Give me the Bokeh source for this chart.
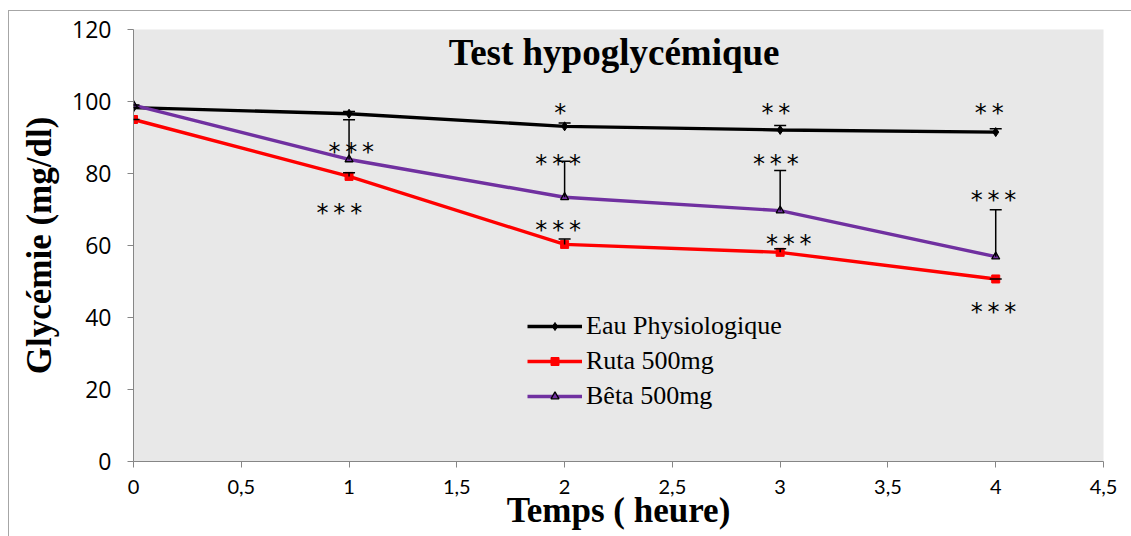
from bokeh.plotting import figure
from bokeh.models import (Range1d, Whisker, ColumnDataSource, Label, Legend, LegendItem,
                          CustomJSTickFormatter, FixedTicker, TeeHead, InlineStyleSheet)
from bokeh.core.properties import value
from bokeh.embed import file_html
from bokeh.resources import INLINE

# ---- data ----
hours = [0, 1, 2, 3, 4]
eau = [98.3, 96.6, 93.1, 92.1, 91.5]
eau_err = [0.0, 0.6, 0.9, 1.2, 0.9]
ruta = [95.0, 79.2, 60.3, 58.1, 50.7]
ruta_err = [0.0, 1.0, 1.5, 1.0, 0.0]
beta = [99.0, 83.9, 73.4, 69.7, 56.9]
beta_err = [0.0, 11.0, 10.0, 11.1, 13.0]

series_names = ["Eau Physiologique", "Ruta 500mg", "Bêta 500mg"]

# significance annotations
T3 = "*\u2009*\u2009*"
T2 = "*\u2009*"
sig_text = [T3, T3, "*", T3, T3, T2, T3, T3, T2, T3, T3]
sig_x = [1.01, 0.955, 1.98, 1.97, 1.97, 2.98, 2.98, 3.04, 3.97, 3.99, 3.99]
sig_y = [86.8, 69.9, 97.7, 83.4, 65.1, 97.7, 83.4, 61.2, 97.7, 73.6, 42.4]

x_ticks = [0, 0.5, 1, 1.5, 2, 2.5, 3, 3.5, 4, 4.5]
y_ticks = [0, 20, 40, 60, 80, 100, 120]

# ---- figure ----
p = figure(width=1131, height=536, output_backend="svg", toolbar_location=None,
           x_range=Range1d(0, 4.5), y_range=Range1d(0, 120),
           min_border_left=133, min_border_right=28, min_border_top=29, min_border_bottom=75)
p.background_fill_color = "#e8e8e8"
p.border_fill_color = "white"
p.outline_line_color = None
p.xgrid.grid_line_color = None
p.ygrid.grid_line_color = None
p.stylesheets = [InlineStyleSheet(css=(
    ":host::after { content: ''; position: absolute; left: 8px; top: 10px; right: 0px; bottom: 0px;"
    " border-left: 1px solid #a6a6a6; border-top: 1px solid #a6a6a6; pointer-events: none; }"))]

fmt = CustomJSTickFormatter(code="return tick.toString().replace('.', ',');")
for ax, ticks in ((p.xaxis[0], x_ticks), (p.yaxis[0], y_ticks)):
    ax.ticker = FixedTicker(ticks=ticks)
    ax.formatter = fmt
    ax.axis_line_color = "#868686"
    ax.major_tick_line_color = "#868686"
    ax.major_tick_out = 6
    ax.major_tick_in = 0
    ax.minor_tick_line_color = None
    ax.major_label_text_color = "black"
    ax.axis_label_text_font = "Liberation Serif"
    ax.axis_label_text_font_style = "bold"
    ax.axis_label_text_color = "black"

p.xaxis.major_label_text_font = "Lato"
p.xaxis.major_label_text_font_size = "20px"
p.yaxis.major_label_text_font = "Open Sans"
p.yaxis.major_label_text_font_size = "23px"

p.xaxis.axis_label = "Temps ( heure)"
p.xaxis.axis_label_text_font_size = "35px"
p.xaxis.axis_label_standoff = -6
p.xaxis.major_label_standoff = 12
p.yaxis.axis_label = "Glycémie (mg/dl)"
p.yaxis.axis_label_text_font_size = "35px"
p.yaxis.axis_label_standoff = 10
p.yaxis.major_label_standoff = 16

colors = ["black", "#ff0000", "#7030a0"]
values = [eau, ruta, beta]
errs = [eau_err, ruta_err, beta_err]
items = []
for name, vals, col in zip(series_names, values, colors):
    src = ColumnDataSource(dict(x=hours, y=vals))
    r_line = p.line("x", "y", source=src, line_color=col, line_width=3.4)
    if name.startswith("Eau"):
        r_m = p.scatter("x", "y", source=src, marker="diamond", size=9, fill_color="black", line_color="black")
    elif name.startswith("Ruta"):
        r_m = p.scatter("x", "y", source=src, marker="square", size=8, fill_color="#ff0000", line_color="#ff0000")
    else:
        r_m = p.scatter("x", "y", source=src, marker="triangle", size=8, fill_color=col, line_color="black", line_width=1.3)
    items.append(LegendItem(label=name, renderers=[r_line, r_m]))

for vals, err in zip(values, errs):
    esrc = ColumnDataSource(dict(x=hours, lower=vals, upper=[v + e for v, e in zip(vals, err)]))
    w = Whisker(source=esrc, base="x", lower="lower", upper="upper",
                upper_head=TeeHead(size=12, line_width=1.5, line_color="black"),
                lower_head=None, line_color="black", line_width=1.5, level="overlay")
    p.add_layout(w)

sig_src = ColumnDataSource(dict(x=sig_x, y=sig_y, t=sig_text))
p.text("x", "y", text="t", source=sig_src, text_align="center", text_baseline="middle",
       text_font=value("DejaVu Sans"), text_font_size="24px", text_color="black", y_offset=3)

legend = Legend(items=items, location=(394, 50), background_fill_alpha=0,
                border_line_color=None, label_text_font="Liberation Serif",
                label_text_font_size="26px", label_text_color="black",
                glyph_width=55, glyph_height=20, label_height=26, spacing=5,
                padding=0, margin=0, label_standoff=4)
p.add_layout(legend)

title = Label(x=2.23, y=113.5, text="Test hypoglycémique", text_align="center",
              text_baseline="middle", text_font="Liberation Serif", text_font_style="bold",
              text_font_size="37px", text_color="black")
p.add_layout(title)

open("out.html", "w").write(file_html(p, INLINE))
